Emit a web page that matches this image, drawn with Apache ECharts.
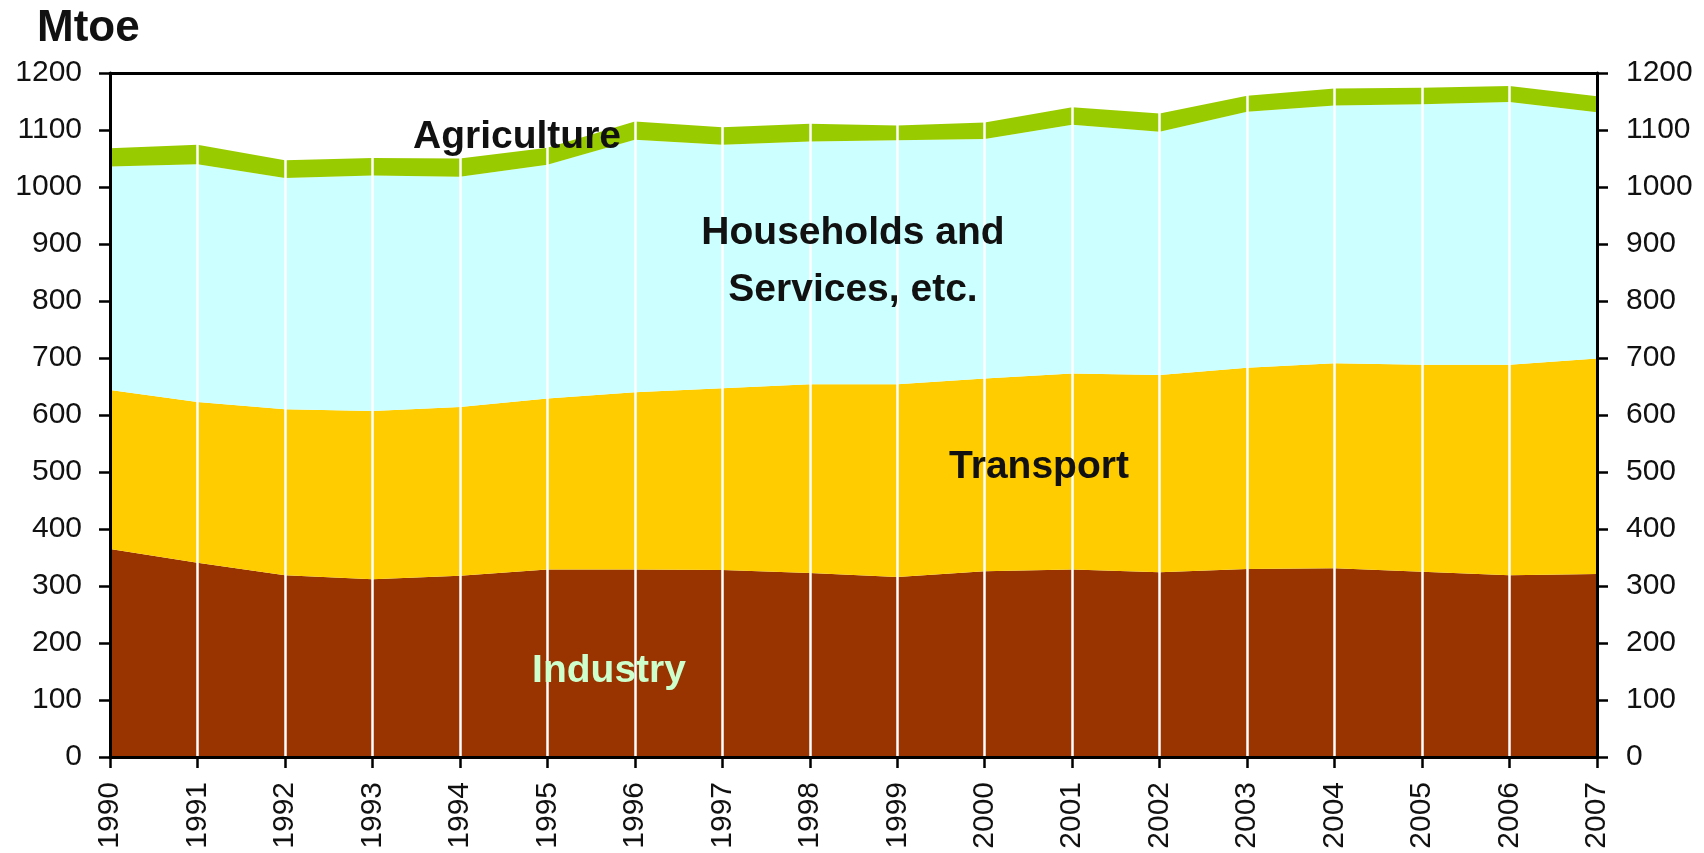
<!DOCTYPE html>
<html>
<head>
<meta charset="utf-8">
<script src="https://cdn.jsdelivr.net/npm/echarts@6/dist/echarts.min.js"></script>
<style>
html,body{margin:0;padding:0;background:#fff;}
#chart{width:1704px;height:853px;}
</style>
</head>
<body>
<div id="chart"></div>
<script>
const years = ['1990','1991','1992','1993','1994','1995','1996','1997','1998','1999','2000','2001','2002','2003','2004','2005','2006','2007'];
const industry = [365,341,319,312,318,329,329,328,323,316,326,329,324,330,331,325,319,321];
const transport = [279,282,291,295,296,300,311,319,331,338,338,344,346,353,360,363,369,378];
const households = [392,417,406,413,404,410,443,427,426,428,420,436,427,449,452,457,461,432];
const agriculture = [32,34,31,31,32,30,32,31,31,26,29,31,32,28,30,29,28,28];
const yTicks = {min: 0, max: 1200, interval: 100};

const FONT = "'Liberation Sans', Arial, sans-serif";
const chart = echarts.init(document.getElementById('chart'), null, {renderer: 'canvas'});

const axisLine = {show: true, onZero: false, lineStyle: {color: '#000', width: 3}};
const tick = {show: true, length: 11, lineStyle: {color: '#000', width: 2.5}};
const plain = function (v) { return String(v); };

function areaSeries(name, data, color, extra) {
  return Object.assign({
    name: name, type: 'line', stack: 'total', data: data,
    showSymbol: false, symbol: 'none',
    lineStyle: {width: 0}, areaStyle: {color: color, opacity: 1},
    itemStyle: {color: color}, z: 2
  }, extra || {});
}

chart.setOption({
  animation: false,
  backgroundColor: '#fff',
  grid: {left: 110, right: 107, top: 73, bottom: 96, containLabel: false},
  xAxis: [
    {type: 'category', data: years, position: 'bottom', boundaryGap: false, z: 10,
     axisLine: axisLine, axisTick: Object.assign({alignWithLabel: true, interval: 0}, tick),
     axisLabel: {rotate: 90, interval: 0, margin: 25, fontSize: 30, color: '#111', fontFamily: FONT},
     splitLine: {show: false}},
    {type: 'category', data: years, position: 'top', boundaryGap: false, z: 10,
     axisLine: axisLine, axisTick: {show: false}, axisLabel: {show: false}, splitLine: {show: false}}
  ],
  yAxis: [
    {type: 'value', min: yTicks.min, max: yTicks.max, interval: yTicks.interval, position: 'left', z: 10,
     axisLine: axisLine, axisTick: tick,
     axisLabel: {margin: 28, fontSize: 30, color: '#111', fontFamily: FONT, formatter: plain},
     splitLine: {show: false}},
    {type: 'value', min: yTicks.min, max: yTicks.max, interval: yTicks.interval, position: 'right', z: 10,
     axisLine: axisLine, axisTick: tick,
     axisLabel: {margin: 29, fontSize: 30, color: '#111', fontFamily: FONT, formatter: plain},
     splitLine: {show: false}}
  ],
  series: [
    areaSeries('Industry', industry, '#993300'),
    areaSeries('Transport', transport, '#FFCC00'),
    areaSeries('Households and Services, etc.', households, '#CCFFFF'),
    areaSeries('Agriculture', agriculture, '#99CC00', {
      markLine: {
        silent: true, symbol: ['none', 'none'], animation: false,
        label: {show: false},
        lineStyle: {color: '#ffffff', width: 2.5, type: 'solid'},
        emphasis: {disabled: true},
        data: years.slice(1, years.length - 1).map(function (y) { return {xAxis: y}; })
      }
    })
  ],
  graphic: [
    {type: 'text', left: 37, top: 7, style: {text: 'Mtoe', font: 'bold 44px ' + FONT, fill: '#111'}},
    {type: 'text', x: 517, y: 137, style: {text: 'Agriculture', font: 'bold 39px ' + FONT, fill: '#111', align: 'center', verticalAlign: 'middle'}, z: 20},
    {type: 'text', x: 853, y: 233, style: {text: 'Households and', font: 'bold 39px ' + FONT, fill: '#111', align: 'center', verticalAlign: 'middle'}, z: 20},
    {type: 'text', x: 853, y: 290, style: {text: 'Services, etc.', font: 'bold 39px ' + FONT, fill: '#111', align: 'center', verticalAlign: 'middle'}, z: 20},
    {type: 'text', x: 1039, y: 467, style: {text: 'Transport', font: 'bold 39px ' + FONT, fill: '#111', align: 'center', verticalAlign: 'middle'}, z: 20},
    {type: 'text', x: 609, y: 671, style: {text: 'Industry', font: 'bold 39px ' + FONT, fill: '#CCFFCC', align: 'center', verticalAlign: 'middle'}, z: 20}
  ]
});
</script>
</body>
</html>
